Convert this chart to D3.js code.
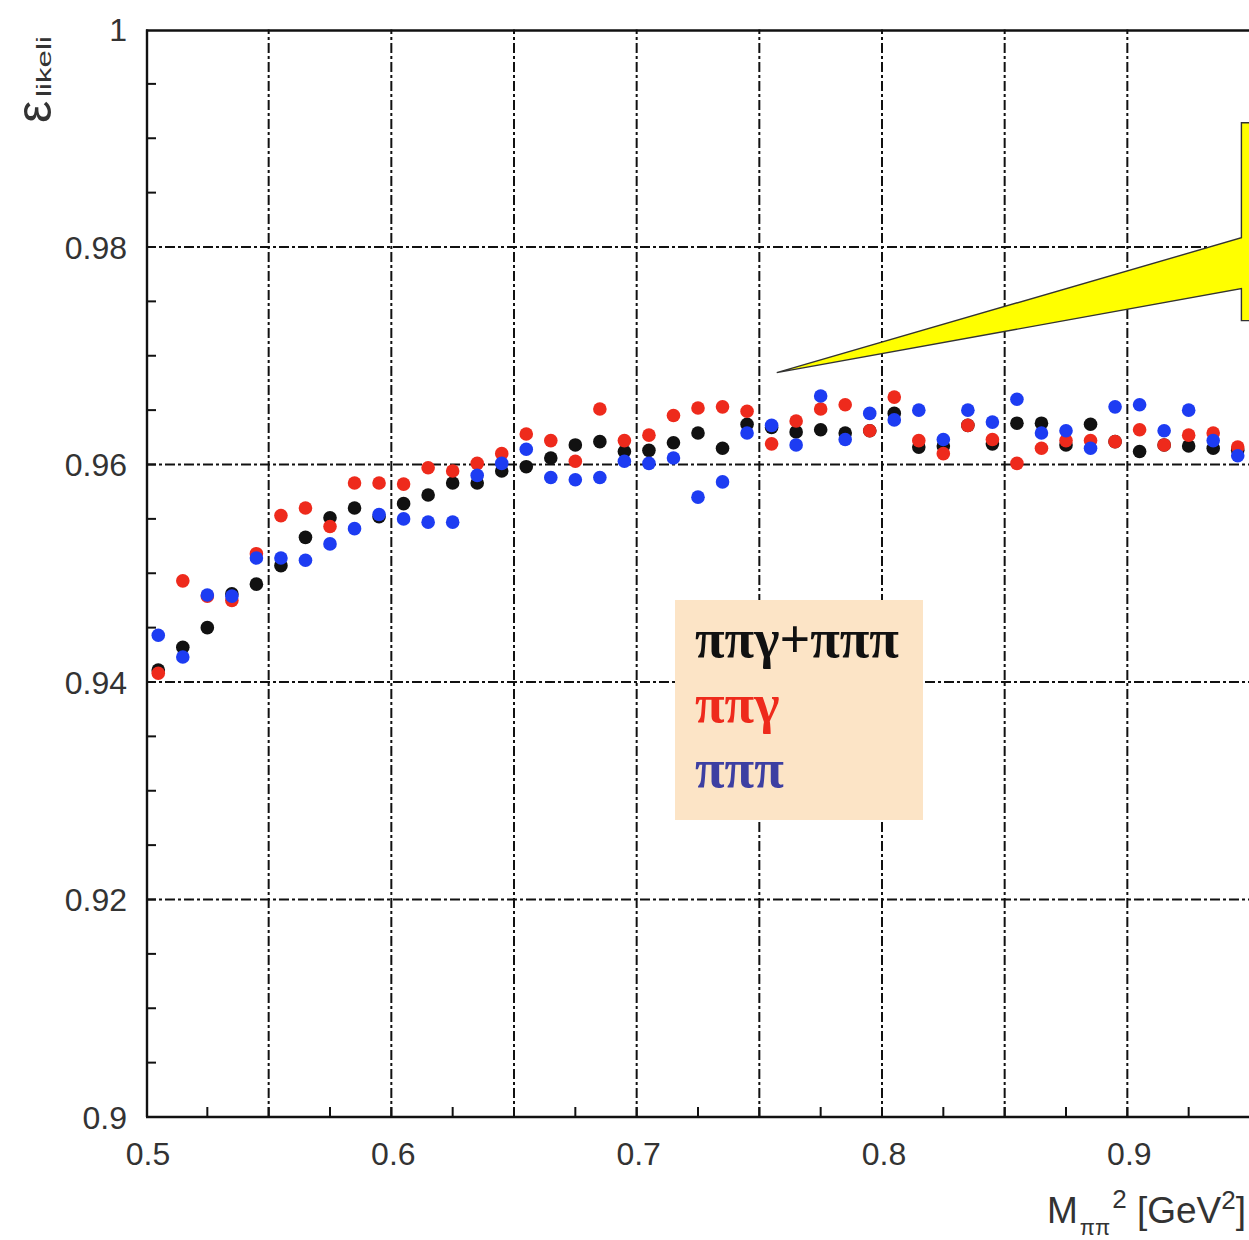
<!DOCTYPE html>
<html>
<head>
<meta charset="utf-8">
<script src="https://cdn.jsdelivr.net/npm/d3@7/dist/d3.min.js"></script>
<style>
  html, body { margin: 0; padding: 0; background: #ffffff; }
  svg { display: block; }
</style>
</head>
<body>
<script>
// Bin centres of M_ππ² [GeV²]
const massBins = [
  0.505, 0.515, 0.525, 0.535, 0.545, 0.555, 0.565, 0.575, 0.585, 0.595,
  0.605, 0.615, 0.625, 0.635, 0.645, 0.655, 0.665, 0.675, 0.685, 0.695,
  0.705, 0.715, 0.725, 0.735, 0.745, 0.755, 0.765, 0.775, 0.785, 0.795,
  0.805, 0.815, 0.825, 0.835, 0.845, 0.855, 0.865, 0.875, 0.885, 0.895,
  0.905, 0.915, 0.925, 0.935, 0.945
];

// Likelihood efficiency, ππγ + πππ combined sample
const effCombined = [
  0.9411, 0.9432, 0.9450, 0.9481, 0.9490, 0.9507, 0.9533, 0.9551, 0.9560, 0.9552,
  0.9564, 0.9572, 0.9583, 0.9583, 0.9594, 0.9598, 0.9606, 0.9618, 0.9621, 0.9612,
  0.9613, 0.9620, 0.9629, 0.9615, 0.9637, 0.9634, 0.9630, 0.9632, 0.9629, 0.9631,
  0.9647, 0.9616, 0.9617, 0.9636, 0.9619, 0.9638, 0.9638, 0.9618, 0.9637, 0.9621,
  0.9612, 0.9618, 0.9617, 0.9615, 0.9613
];

// Likelihood efficiency, ππγ sample
const effPiPiGamma = [
  0.9408, 0.9493, 0.9479, 0.9475, 0.9518, 0.9553, 0.9560, 0.9543, 0.9583, 0.9583,
  0.9582, 0.9597, 0.9594, 0.9601, 0.9610, 0.9628, 0.9622, 0.9603, 0.9651, 0.9622,
  0.9627, 0.9645, 0.9652, 0.9653, 0.9649, 0.9619, 0.9640, 0.9651, 0.9655, 0.9631,
  0.9662, 0.9622, 0.9610, 0.9636, 0.9623, 0.9601, 0.9615, 0.9622, 0.9622, 0.9621,
  0.9632, 0.9618, 0.9627, 0.9629, 0.9616
];

// Likelihood efficiency, πππ sample
const effPiPiPi = [
  0.9443, 0.9423, 0.9480, 0.9479, 0.9514, 0.9514, 0.9512, 0.9527, 0.9541, 0.9554,
  0.9550, 0.9547, 0.9547, 0.9590, 0.9601, 0.9614, 0.9588, 0.9586, 0.9588, 0.9603,
  0.9601, 0.9606, 0.9570, 0.9584, 0.9629, 0.9636, 0.9618, 0.9663, 0.9623, 0.9647,
  0.9641, 0.9650, 0.9623, 0.9650, 0.9639, 0.9660, 0.9629, 0.9631, 0.9615, 0.9653,
  0.9655, 0.9631, 0.9650, 0.9622, 0.9608
];

const yTickValues = [0.9, 0.92, 0.94, 0.96, 0.98, 1];
const yGridValues = [0.92, 0.94, 0.96, 0.98];
const xTickValues = [0.5, 0.6, 0.7, 0.8, 0.9];
const xGridValues = [0.55, 0.6, 0.65, 0.7, 0.75, 0.8, 0.85, 0.9];

const seriesNames = ["ππγ+πππ", "ππγ", "πππ"];
const seriesColors = ["#111111", "#ee2a1c", "#1d3cf2"];
const legendColors = ["#111111", "#ee2a1c", "#3d3fa2"];

// Callout shape (M², ε) corners
const calloutX = [0.7571, 0.9465, 0.9465, 0.97, 0.97, 0.9465, 0.9465];
const calloutY = [0.96845, 0.98085, 0.99142, 0.99142, 0.97323, 0.97323, 0.97617];

const W = 1249, H = 1240;
const svg = d3.select("body").append("svg")
  .attr("width", W).attr("height", H)
  .attr("viewBox", `0 0 ${W} ${H}`);

const x = d3.scaleLinear().domain([0.5, 0.95]).range([146, 1250]);
const y = d3.scaleLinear().domain([0.9, 1.0]).range([1117, 29.5]);

const fontSans = "'Liberation Sans', Arial, Helvetica, sans-serif";

// Grid (dash-dot)
const dash = "10,3,3,3";
svg.append("g").selectAll("line").data(xGridValues).join("line")
  .attr("x1", d => x(d)).attr("x2", d => x(d))
  .attr("y1", y(0.9)).attr("y2", y(1.0))
  .attr("stroke", "#111").attr("stroke-width", 2)
  .attr("stroke-dasharray", dash);
svg.append("g").selectAll("line").data(yGridValues).join("line")
  .attr("x1", x(0.5)).attr("x2", W)
  .attr("y1", d => y(d)).attr("y2", d => y(d))
  .attr("stroke", "#111").attr("stroke-width", 2)
  .attr("stroke-dasharray", dash);

// Frame
const frame = svg.append("g").attr("stroke", "#111").attr("stroke-width", 2.4).attr("fill", "none");
frame.append("line").attr("x1", x(0.5) + 1).attr("x2", x(0.5) + 1).attr("y1", y(1.0)).attr("y2", y(0.9));
frame.append("line").attr("x1", x(0.5)).attr("x2", W).attr("y1", y(0.9)).attr("y2", y(0.9));
frame.append("line").attr("x1", x(0.5)).attr("x2", W).attr("y1", y(1.0) + 1).attr("y2", y(1.0) + 1);

// Minor ticks
const yMinor = d3.range(0, 21).map(i => +(0.9 + i * 0.005).toFixed(3)).filter(v => v > 0.9 && v < 1);
svg.append("g").selectAll("line").data(yMinor).join("line")
  .attr("x1", x(0.5)).attr("x2", x(0.5) + 10)
  .attr("y1", d => y(d)).attr("y2", d => y(d))
  .attr("stroke", "#111").attr("stroke-width", 2);
const xMinor = d3.range(0, 19).map(i => +(0.5 + i * 0.025).toFixed(3)).filter(v => v > 0.5 && v < 0.95);
svg.append("g").selectAll("line").data(xMinor).join("line")
  .attr("x1", d => x(d)).attr("x2", d => x(d))
  .attr("y1", y(0.9)).attr("y2", y(0.9) - 10)
  .attr("stroke", "#111").attr("stroke-width", 2);

// Tick labels
svg.append("g").selectAll("text").data(yTickValues).join("text")
  .attr("x", 127).attr("y", d => y(d)).attr("dy", "0.36em")
  .attr("text-anchor", "end")
  .attr("font-family", fontSans).attr("font-size", 32).attr("fill", "#333")
  .text(d => d3.format("~g")(d));
svg.append("g").selectAll("text").data(xTickValues).join("text")
  .attr("x", d => x(d) + 2).attr("y", 1165)
  .attr("text-anchor", "middle")
  .attr("font-family", fontSans).attr("font-size", 32).attr("fill", "#333")
  .text(d => d3.format("~g")(d));

// Axis titles
const yTitle = svg.append("g").attr("transform", "translate(51,123) rotate(-90)");
yTitle.append("text")
  .attr("font-family", fontSans).attr("font-size", 50).attr("fill", "#333")
  .text("ε");
yTitle.append("text")
  .attr("x", 26).attr("y", 0)
  .attr("font-family", fontSans).attr("font-size", 21).attr("fill", "#333")
  .attr("textLength", 61).attr("lengthAdjust", "spacingAndGlyphs")
  .text("likeli");

const xTitle = svg.append("text")
  .attr("x", 1246).attr("y", 1223)
  .attr("text-anchor", "end")
  .attr("font-family", fontSans).attr("font-size", 37).attr("fill", "#333");
xTitle.append("tspan").text("M");
xTitle.append("tspan").attr("font-size", 22).attr("dy", 12).attr("dx", 2).text("ππ");
xTitle.append("tspan").attr("font-size", 26).attr("dy", -27).attr("dx", 2).text("2");
xTitle.append("tspan").attr("dy", 15).text(" [GeV");
xTitle.append("tspan").attr("font-size", 26).attr("dy", -14).text("2");
xTitle.append("tspan").attr("dy", 14).text("]");

// Data points
const seriesData = [effCombined, effPiPiGamma, effPiPiPi];
seriesData.forEach((vals, s) => {
  svg.append("g").selectAll("circle").data(massBins.map((m, i) => [m, vals[i]])).join("circle")
    .attr("cx", d => x(d[0])).attr("cy", d => y(d[1]))
    .attr("r", 6.8)
    .attr("fill", seriesColors[s]);
});

// Callout
const calloutPts = calloutX.map((cx, i) => [x(cx), y(calloutY[i])]);
svg.append("path")
  .attr("d", d3.line()(calloutPts) + "Z")
  .attr("fill", "#ffff00")
  .attr("stroke", "#333").attr("stroke-width", 1.4);

// Legend
const legend = svg.append("g");
legend.append("rect")
  .attr("x", 675).attr("y", 600).attr("width", 248).attr("height", 220)
  .attr("fill", "#fce4c6");
legend.selectAll("text").data(seriesNames).join("text")
  .attr("x", 695).attr("y", (d, i) => 657 + i * 65)
  .attr("font-family", "'Liberation Serif', 'DejaVu Serif', serif")
  .attr("font-weight", "bold").attr("font-size", 54)
  .attr("fill", (d, i) => legendColors[i])
  .text(d => d);
</script>
</body>
</html>
